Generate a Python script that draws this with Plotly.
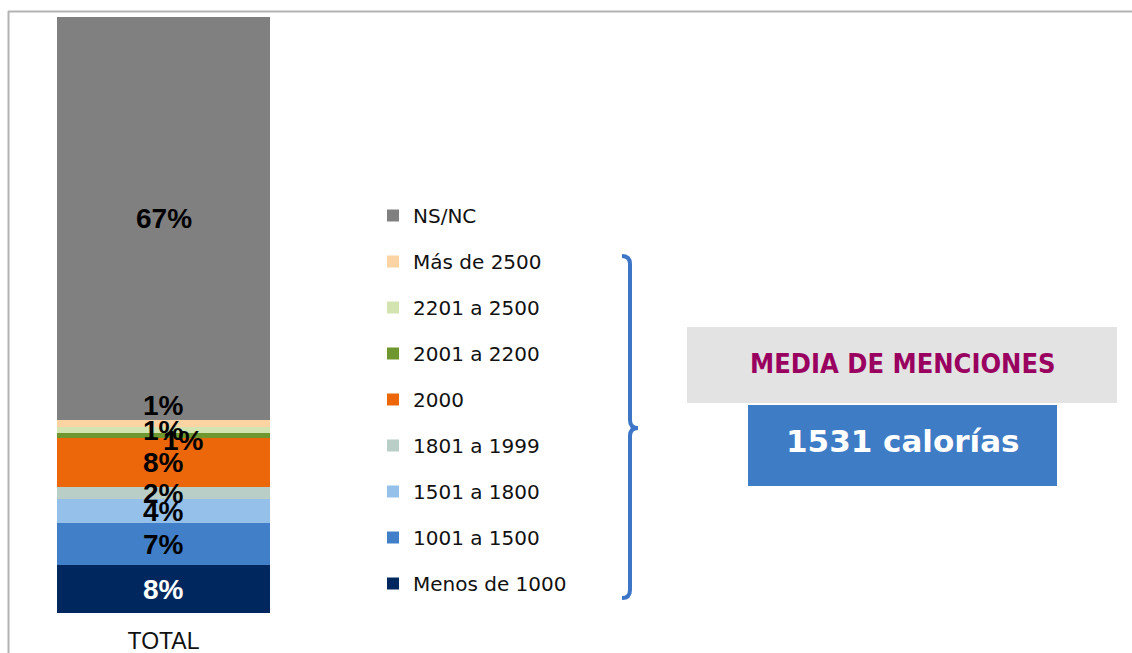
import plotly.graph_objects as go

W, H = 1132, 653

category = ["TOTAL"]
series_names = ["Menos de 1000", "1001 a 1500", "1501 a 1800", "1801 a 1999",
                "2000", "2001 a 2200", "2201 a 2500", "Más de 2500", "NS/NC"]
series_values = [8.05, 7.05, 4.0, 2.0, 8.2, 0.85, 1.0, 1.2, 67.65]
series_labels = ["8%", "7%", "4%", "2%", "8%", "1%", "1%", "1%", "67%"]
series_colors = ["#00275e", "#4180c9", "#94c0ea", "#b8cec6", "#eb6709",
                 "#6e972f", "#d3e4b1", "#fcd3a3", "#808080"]
label_colors = ["white"] + ["black"] * 8
# label offsets (px) for crowded small segments, mimicking the original placement
label_shift = {5: (20, -5), 6: (0, 0), 7: (0, 18)}

media_title = "MEDIA DE MENCIONES"
media_value = "1531 calorías"


def px(x):
    return x / W


def py(y):
    return 1 - y / H


fig = go.Figure()
n = len(series_names)
for i, (name, val, col) in enumerate(zip(series_names, series_values, series_colors)):
    fig.add_trace(go.Bar(
        x=category, y=[val], name=name, marker_color=col,
        marker_line_width=0, legendgroup=name, legendrank=100 + (n - i),
        hoverinfo="skip",
    ))

annotations = []
cum = 0
for i, (val, lab, lc) in enumerate(zip(series_values, series_labels, label_colors)):
    mid = cum + val / 2
    cum += val
    xs, ys = label_shift.get(i, (0, 0))
    annotations.append(dict(
        x=category[0], y=mid, xref="x", yref="y", text=lab, showarrow=False,
        xshift=xs, yshift=ys, xanchor="center", yanchor="middle",
        font=dict(family="Liberation Sans, Arial", size=28, color=lc, weight="bold"),
    ))

# media box texts
annotations.append(dict(
    x=px((687 + 1117) / 2), y=py(363), xref="paper", yref="paper",
    xanchor="center", yanchor="middle",
    text="<b>" + media_title + "</b>", showarrow=False,
    font=dict(family="DejaVu Sans Condensed, DejaVu Sans", size=27, color="#99005f"),
))
annotations.append(dict(
    x=px((748 + 1057) / 2), y=py(441), xref="paper", yref="paper",
    xanchor="center", yanchor="middle",
    text="<b>" + media_value + "</b>", showarrow=False,
    font=dict(family="DejaVu Sans", size=31, color="white"),
))

shapes = [
    # frame
    dict(type="line", xref="paper", yref="paper", x0=px(8.5), x1=px(8.5),
         y0=py(11), y1=py(653), line=dict(color="#b3b3b3", width=2)),
    dict(type="line", xref="paper", yref="paper", x0=px(8), x1=px(1132),
         y0=py(11.5), y1=py(11.5), line=dict(color="#b3b3b3", width=2)),
    # gray box
    dict(type="rect", xref="paper", yref="paper", x0=px(687), x1=px(1117),
         y0=py(403), y1=py(327), fillcolor="#e3e3e3", line=dict(width=0), layer="below"),
    # blue box
    dict(type="rect", xref="paper", yref="paper", x0=px(748), x1=px(1057),
         y0=py(486), y1=py(405), fillcolor="#3f7cc6", line=dict(width=0), layer="below"),
]

# brace
pts = [(622, 256), (630, 256), (630, 264), (630, 420), (630, 428), (638, 428),
       (630, 428), (630, 436), (630, 590), (630, 598), (622, 598)]
P = [(px(x), py(y)) for x, y in pts]
path = (f"M {P[0][0]},{P[0][1]} Q {P[1][0]},{P[1][1]} {P[2][0]},{P[2][1]} "
        f"L {P[3][0]},{P[3][1]} Q {P[4][0]},{P[4][1]} {P[5][0]},{P[5][1]} "
        f"Q {P[6][0]},{P[6][1]} {P[7][0]},{P[7][1]} "
        f"L {P[8][0]},{P[8][1]} Q {P[9][0]},{P[9][1]} {P[10][0]},{P[10][1]}")
shapes.append(dict(type="path", xref="paper", yref="paper", path=path,
                   line=dict(color="#3d76c6", width=4)))

fig.update_layout(
    width=W, height=H,
    margin=dict(l=0, r=0, t=0, b=0),
    paper_bgcolor="white", plot_bgcolor="white",
    barmode="stack", bargap=0,
    showlegend=True,
    legend=dict(
        x=px(373), y=py(196), xanchor="left", yanchor="top",
        traceorder="grouped", tracegroupgap=17,
        font=dict(family="DejaVu Sans", size=20, color="#111111"),
        bgcolor="rgba(0,0,0,0)", itemclick=False, itemdoubleclick=False,
    ),
    xaxis=dict(domain=[px(57), px(270)], showgrid=False, zeroline=False,
               showline=False, ticks="", automargin=False, ticklabelstandoff=12,
               tickfont=dict(family="Liberation Sans, Arial", size=23, color="#111111")),
    yaxis=dict(domain=[1 - 613 / H, 1 - 17 / H], range=[0, 100], visible=False,
               automargin=False),
    annotations=annotations,
    shapes=shapes,
)

fig.write_html("out.html", config={"displayModeBar": False},
               post_script="document.body.style.margin='0';")
